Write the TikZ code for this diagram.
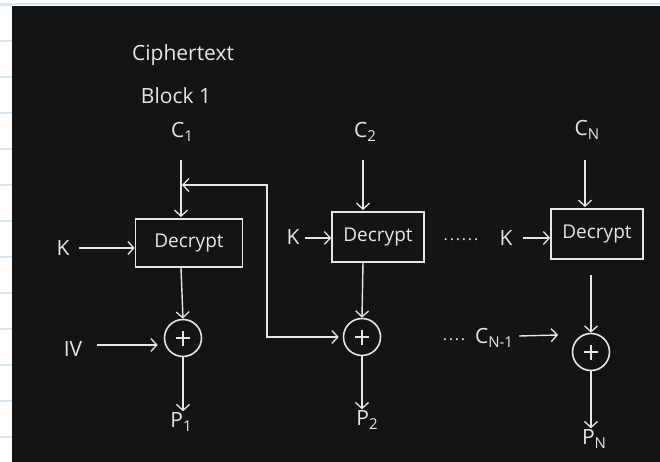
\documentclass[tikz,border=0pt]{standalone}
\usepackage{fontspec}
\setmainfont{Open Sans}
\usetikzlibrary{arrows.meta}
\definecolor{bg}{HTML}{141414}
\definecolor{ink}{HTML}{E6E6E6}
\definecolor{rule}{HTML}{D2E8F6}
\newcommand{\sbs}[1]{\raisebox{-0.35ex}{\fontsize{15}{17}\selectfont #1}}
\newcommand{\dd}{.\kern1.8pt}
\tikzset{
  ink/.style={draw=ink, line width=1.4pt},
  arr/.style={ink, -{Straight Barb[length=6pt,width=13pt,line width=1.3pt]}},
  lbl/.style={text=ink, font=\fontsize{21}{24}\selectfont, inner sep=1pt},
  dec/.style={draw=ink, line width=1.6pt, text=ink, font=\fontsize{19}{21}\selectfont, minimum width=92pt, minimum height=50pt, inner sep=0pt},
  xor/.style={circle, draw=ink, line width=1.6pt, minimum size=37pt, inner sep=0pt,
    path picture={\draw[ink, line width=1.3pt] ([xshift=-7pt]path picture bounding box.center) -- ([xshift=7pt]path picture bounding box.center)
      ([yshift=-8pt]path picture bounding box.center) -- ([yshift=7pt]path picture bounding box.center);}},
  dots/.style={text=ink, font=\fontsize{16}{18}\selectfont, inner sep=0pt}
}
\begin{document}
\begin{tikzpicture}[x=1pt,y=-1pt]
\useasboundingbox (0,0) rectangle (660,462);
\fill[white] (0,0) rectangle (660,462);
\foreach \yy in {5,41,...,462} \draw[rule, line width=1.5pt] (0,\yy) -- (12,\yy);
\draw[rule, line width=1.5pt] (0,4) -- (660,4);
\fill[bg] (12,6) rectangle (660,462);

% titles
\node[lbl] (title1) at (183,55) {Ciphertext};
\node[lbl] (title2) at (176,96) {Block 1};
\node[lbl] (c1) at (182,132) {C\sbs{1}};
\node[lbl] (c2) at (365,132) {C\sbs{2}};
\node[lbl] (cn) at (587,130) {C\sbs{N}};

% decrypt boxes
\node[dec, minimum width=107pt, minimum height=48pt] (d1) at (189,243) {Decrypt};
\node[dec] (d2) at (378,237) {Decrypt};
\node[dec] (d3) at (597,234) {Decrypt};

% keys
\node[lbl] (k1) at (63,248) {K};
\node[lbl] (k2) at (293,237) {K};
\node[lbl] (k3) at (506,238) {K};
\node[dots, anchor=base] (kdots) at (461,240) {\dd\dd\dd\dd\dd.};

% xors
\node[xor] (x1) at (183,338) {};
\node[xor] (x2) at (362,337) {};
\node[xor] (x3) at (591,352) {};

% IV, C_{N-1}
\node[lbl] (iv) at (73,349) {IV};
\node[lbl] (cnm1) at (494,338) {C\sbs{N-1}};
\node[dots, anchor=base] (cdots) at (454,340) {\dd\dd\dd.};

% outputs
\node[lbl] (p1) at (181,422) {P\sbs{1}};
\node[lbl] (p2) at (367,420) {P\sbs{2}};
\node[lbl] (pn) at (594,439) {P\sbs{N}};

% coordinates for inputs
\coordinate (c1top) at (181,160);
\coordinate (c2top) at (363,160);
\coordinate (cntop) at (585,160);
\coordinate (fb) at (182,185);
\coordinate (fbc) at (267,185);
\coordinate (k1s) at (79,248);
\coordinate (k2s) at (305,238);
\coordinate (k3s) at (523,238);
\coordinate (ivs) at (97,345);
\coordinate (cns) at (519,336);
\coordinate (cne) at (558,335);

% arrows
\draw[arr] (c1top) -- (181,217);
\draw[arr] (c2top) -- (363,210);
\draw[arr] (cntop) -- (585,207);

\draw[arr] (k1s) -- (d1.west |- k1s);
\draw[arr] (k2s) -- (d2.west |- k2s);
\draw[arr] (k3s) -- (d3.west |- k3s);

\draw[arr] (181,268) -- (x1.north);
\draw[arr] (363,262) -- (x2.north);
\draw[arr] (591,275) -- (x3.north);

\draw[arr] (ivs) -- ([xshift=-6pt]x1.west |- ivs);
\draw[arr] (cns) -- (cne);

\draw[arr] (x1.south) -- (x1.south |- p1.north);
\draw[arr] (x2.south) -- (x2.south |- p2.north);
\draw[arr] (x3.south) -- (x3.south |- pn.north);

% feedback of C1 into second XOR
\draw[ink, {Straight Barb[length=6pt,width=13pt,line width=1.3pt]}-{Straight Barb[length=6pt,width=13pt,line width=1.3pt]}] (fb) -- (fbc) |- ([xshift=-4pt]x2.west);
\end{tikzpicture}
\end{document}
